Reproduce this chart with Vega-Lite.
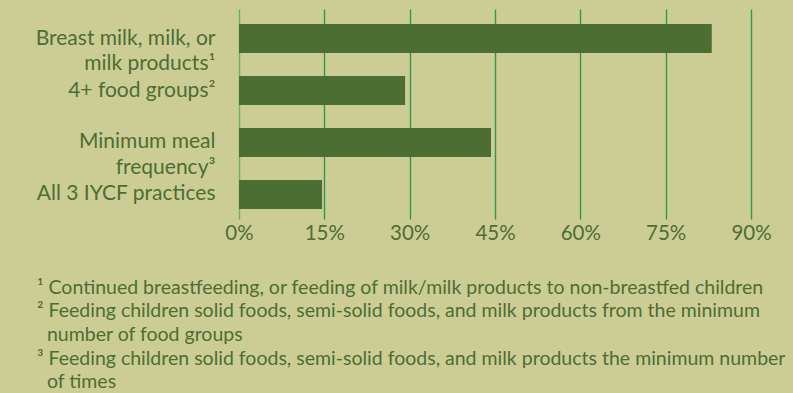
{
  "$schema": "https://vega.github.io/schema/vega-lite/v6.json",
  "width": 512,
  "height": 210,
  "autosize": {"type": "none"},
  "padding": {"left": 239, "top": 9, "right": 42, "bottom": 174},
  "background": "#cccc95",
  "data": {
    "values": [
      {"label": "Breast milk, milk, or\nmilk products¹", "value": 83.1},
      {"label": "4+ food groups²", "value": 29.2},
      {"label": "Minimum meal\nfrequency³", "value": 44.3},
      {"label": "All 3 IYCF practices", "value": 14.6}
    ]
  },
  "title": {
    "text": [
      "¹ Continued breastfeeding, or feeding of milk/milk products to non-breastfed children",
      "² Feeding children solid foods, semi-solid foods, and milk products from the minimum",
      "\u200b\u00a0\u00a0number of food groups",
      "³ Feeding children solid foods, semi-solid foods, and milk products the minimum number",
      "\u200b\u00a0\u00a0of times"
    ],
    "orient": "bottom",
    "anchor": "start",
    "frame": "group",
    "align": "left",
    "dx": -202,
    "offset": 35,
    "font": "Lato",
    "fontSize": 19.5,
    "fontWeight": "normal",
    "color": "#4d6e33",
    "lineHeight": 23.7
  },
  "config": {
    "view": {"stroke": null},
    "font": "Lato"
  },
  "layer": [
    {
      "mark": {"type": "bar", "color": "#4d6e33"},
      "encoding": {
        "y": {
          "field": "label",
          "type": "nominal",
          "sort": null,
          "scale": {"paddingInner": 0.44, "paddingOuter": 0.24, "align": 0.6},
          "axis": {
            "title": null,
            "domain": false,
            "ticks": false,
            "labelPadding": 24,
            "labelFontSize": 21,
            "labelFont": "Lato",
            "labelColor": "#4d6e33",
            "labelLineHeight": 25.5,
            "labelLimit": 300,
            "labelExpr": "split(datum.label, '\\n')"
          }
        },
        "x": {
          "field": "value",
          "type": "quantitative",
          "scale": {"domain": [0, 90], "nice": false},
          "axis": {
            "title": null,
            "values": [0, 15, 30, 45, 60, 75, 90],
            "labelExpr": "datum.value + '%'",
            "labelFlush": false,
            "labelOverlap": false,
            "domain": false,
            "ticks": false,
            "grid": true,
            "gridColor": {"condition": {"test": "datum.value === 0", "value": "#62b46c"}, "value": "#2a9a50"},
            "gridWidth": 1.4,
            "labelPadding": 4,
            "labelFontSize": 20.5,
            "labelFont": "Lato",
            "labelColor": "#4d6e33"
          }
        }
      }
    }
  ]
}
